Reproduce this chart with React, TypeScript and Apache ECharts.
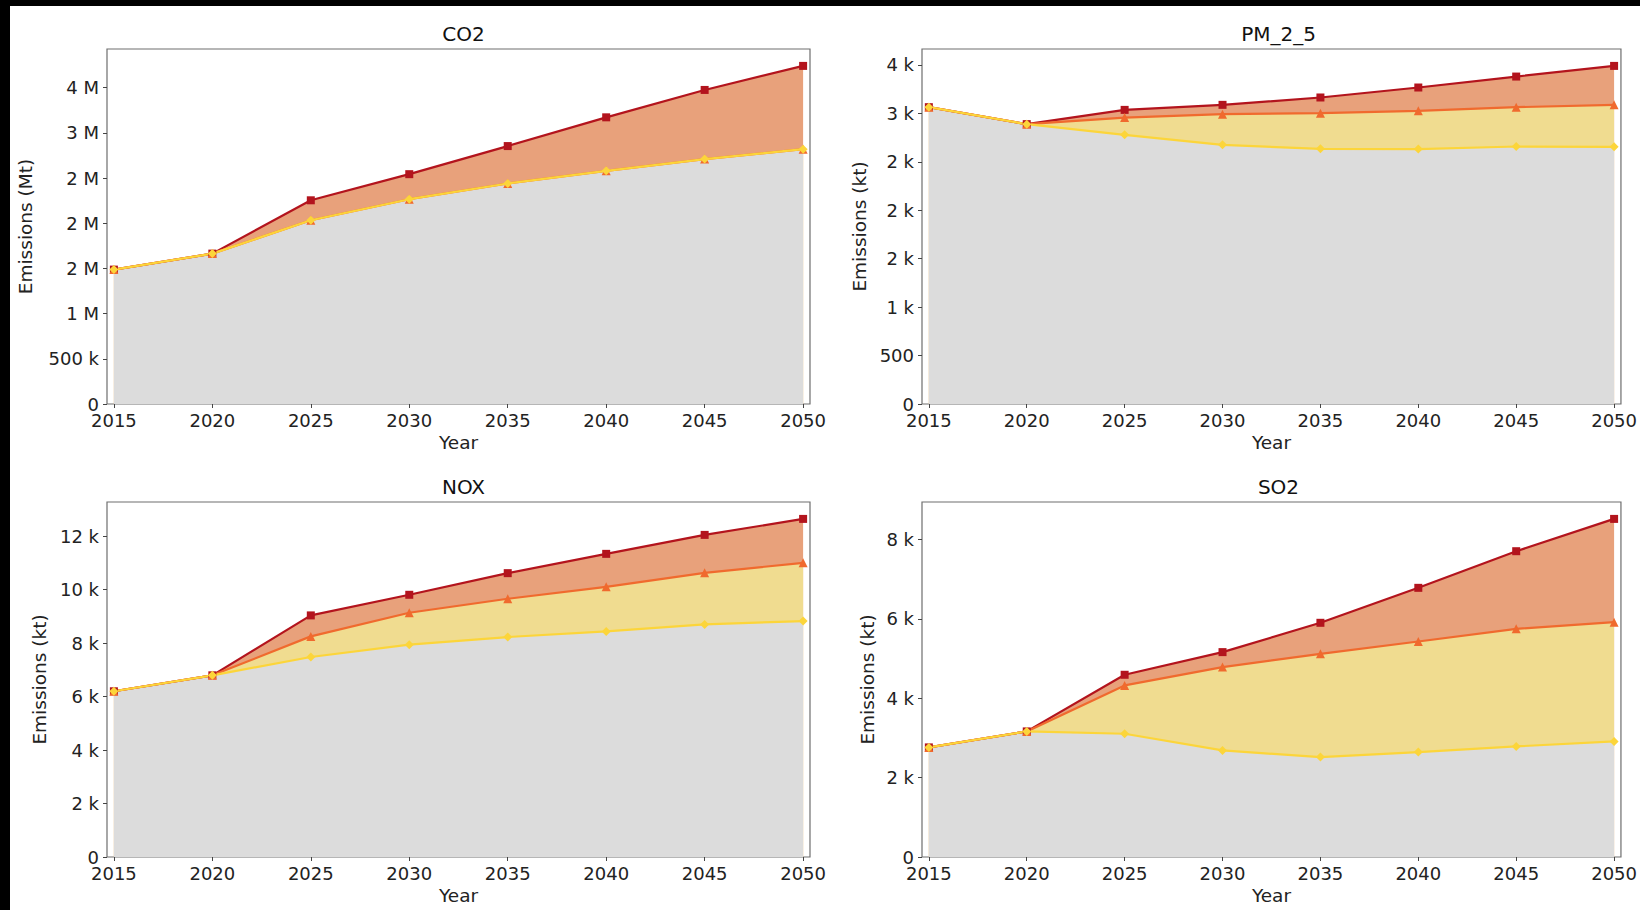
import React, { useEffect, useRef } from "react";
import * as echarts from "echarts";

const YEARS = [2015, 2020, 2025, 2030, 2035, 2040, 2045, 2050];

const CO2_YELLOW = [1487000, 1664000, 2033000, 2266000, 2440000, 2580000, 2710000, 2820000];
const CO2_ORANGE = [1487000, 1664000, 2033000, 2266000, 2440000, 2580000, 2710000, 2820000];
const CO2_RED = [1487000, 1664000, 2254000, 2543000, 2854000, 3172000, 3475000, 3741000];
const CO2_TICKS = [0, 500000, 1000000, 1500000, 2000000, 2500000, 3000000, 3500000];

const PM_YELLOW = [3064, 2889, 2779, 2675, 2634, 2631, 2658, 2655];
const PM_ORANGE = [3064, 2889, 2957, 2992, 3002, 3026, 3064, 3088];
const PM_RED = [3064, 2889, 3036, 3088, 3164, 3267, 3380, 3490];
const PM_TICKS = [0, 500, 1000, 1500, 2000, 2500, 3000, 3500];

const NOX_YELLOW = [6198, 6795, 7480, 7940, 8227, 8438, 8700, 8824];
const NOX_ORANGE = [6198, 6795, 8251, 9135, 9658, 10106, 10629, 11002];
const NOX_RED = [6198, 6795, 9036, 9807, 10616, 11338, 12047, 12645];
const NOX_TICKS = [0, 2000, 4000, 6000, 8000, 10000, 12000];

const SO2_YELLOW = [2762, 3165, 3106, 2686, 2518, 2644, 2787, 2913];
const SO2_ORANGE = [2762, 3165, 4323, 4785, 5121, 5431, 5750, 5918];
const SO2_RED = [2762, 3165, 4592, 5163, 5902, 6783, 7706, 8520];
const SO2_TICKS = [0, 2000, 4000, 6000, 8000];

const PANELS = [
  { title: "CO2", unit: "Emissions (Mt)", yellow: CO2_YELLOW, orange: CO2_ORANGE, red: CO2_RED, ticks: CO2_TICKS },
  { title: "PM_2_5", unit: "Emissions (kt)", yellow: PM_YELLOW, orange: PM_ORANGE, red: PM_RED, ticks: PM_TICKS },
  { title: "NOX", unit: "Emissions (kt)", yellow: NOX_YELLOW, orange: NOX_ORANGE, red: NOX_RED, ticks: NOX_TICKS },
  { title: "SO2", unit: "Emissions (kt)", yellow: SO2_YELLOW, orange: SO2_ORANGE, red: SO2_RED, ticks: SO2_TICKS },
];

// layout (page pixels)
const GRIDS = [
  { left: 107, top: 49, width: 703, height: 355, nameGap: 72 },
  { left: 922, top: 49, width: 703, height: 355, nameGap: 53 },
  { left: 107, top: 502, width: 703, height: 355, nameGap: 58 },
  { left: 922, top: 502, width: 703, height: 355, nameGap: 45 },
];

const FONT = "DejaVu Sans";
const GRAY_FILL = "#dcdcdc";
const YELLOW_FILL = "#f0dc90";
const ORANGE_FILL = "#e8a17b";
const RED_LINE = "#b3141d";
const ORANGE_LINE = "#f06a2e";
const YELLOW_LINE = "#fcd53a";

function roundHalfEven(x: number): number {
  const f = Math.floor(x);
  const d = x - f;
  if (Math.abs(d - 0.5) < 1e-9) return f % 2 === 0 ? f : f + 1;
  return Math.round(x);
}

function eng(v: number): string {
  if (v === 0) return "0";
  const a = Math.abs(v);
  if (a >= 1e6) return roundHalfEven(v / 1e6) + " M";
  if (a >= 1e3) return roundHalfEven(v / 1e3) + " k";
  return String(roundHalfEven(v));
}

function pairs(vals: number[]) {
  return YEARS.map((y, i) => [y, vals[i]]);
}

export default function App() {
  const ref = useRef<HTMLDivElement>(null);

  useEffect(() => {
    if (!ref.current) return;
    const chart = echarts.init(ref.current, undefined, { renderer: "svg" });

    const grid: any[] = [];
    const xAxis: any[] = [];
    const yAxis: any[] = [];
    const title: any[] = [];
    const series: any[] = [];

    PANELS.forEach((p, i) => {
      const g = GRIDS[i];
      grid.push({
        left: g.left,
        top: g.top,
        width: g.width,
        height: g.height,
        show: true,
        backgroundColor: "#ffffff",
        borderColor: "#6e6e6e",
        borderWidth: 1.2,
        containLabel: false,
      });
      title.push({
        text: p.title,
        left: g.left + g.width / 2,
        top: g.top - 30,
        textAlign: "center",
        textStyle: { fontFamily: FONT, fontSize: 20, fontWeight: "normal", color: "#111" },
      });
      xAxis.push({
        type: "value",
        gridIndex: i,
        min: 2014.65,
        max: 2050.35,
        name: "Year",
        nameLocation: "middle",
        nameGap: 29,
        nameTextStyle: { fontFamily: FONT, fontSize: 18.5, color: "#222" },
        axisLine: { show: false },
        splitLine: { show: false },
        axisTick: { show: true, length: 4, lineStyle: { color: "#444" }, customValues: YEARS },
        axisLabel: {
          fontFamily: FONT,
          fontSize: 18,
          color: "#222",
          margin: 7,
          customValues: YEARS,
          formatter: (v: number) => String(Math.round(v)),
        },
      });
      const ymax = Math.max(...p.red) * 1.05;
      yAxis.push({
        type: "value",
        gridIndex: i,
        min: 0,
        max: ymax,
        name: p.unit,
        nameLocation: "middle",
        nameGap: g.nameGap,
        nameTextStyle: { fontFamily: FONT, fontSize: 18.5, color: "#222" },
        axisLine: { show: false },
        splitLine: { show: false },
        axisTick: { show: true, length: 4, lineStyle: { color: "#444" }, customValues: p.ticks },
        axisLabel: {
          fontFamily: FONT,
          fontSize: 18,
          color: "#222",
          margin: 8,
          customValues: p.ticks,
          formatter: (v: number) => eng(v),
        },
      });

      const areas = [
        { vals: p.red, color: ORANGE_FILL },
        { vals: p.orange, color: YELLOW_FILL },
        { vals: p.yellow, color: GRAY_FILL },
      ];
      areas.forEach((a) => {
        series.push({
          type: "line",
          xAxisIndex: i,
          yAxisIndex: i,
          data: pairs(a.vals),
          symbol: "none",
          lineStyle: { width: 0, color: a.color },
          areaStyle: { color: a.color, opacity: 1 },
          z: 1,
          silent: true,
        });
      });
      const lines = [
        { vals: p.red, color: RED_LINE, symbol: "rect", size: 8 },
        { vals: p.orange, color: ORANGE_LINE, symbol: "triangle", size: 9 },
        { vals: p.yellow, color: YELLOW_LINE, symbol: "diamond", size: 9 },
      ];
      lines.forEach((l) => {
        series.push({
          type: "line",
          xAxisIndex: i,
          yAxisIndex: i,
          data: pairs(l.vals),
          symbol: l.symbol,
          symbolSize: l.size,
          showSymbol: true,
          lineStyle: { width: 2.2, color: l.color },
          itemStyle: { color: l.color, borderWidth: 0 },
          z: 3,
        });
      });
    });

    chart.setOption({
      animation: false,
      backgroundColor: "transparent",
      title,
      grid,
      xAxis,
      yAxis,
      series,
    });

    return () => chart.dispose();
  }, []);

  return (
    <div style={{ position: "fixed", left: 0, top: 0, width: 1640, height: 910, background: "#000", overflow: "hidden" }}>
      <div style={{ position: "absolute", left: 10, top: 6, width: 1630, height: 904, background: "#fff" }} />
      <div ref={ref} style={{ position: "absolute", left: 0, top: 0, width: 1640, height: 910 }} />
    </div>
  );
}
